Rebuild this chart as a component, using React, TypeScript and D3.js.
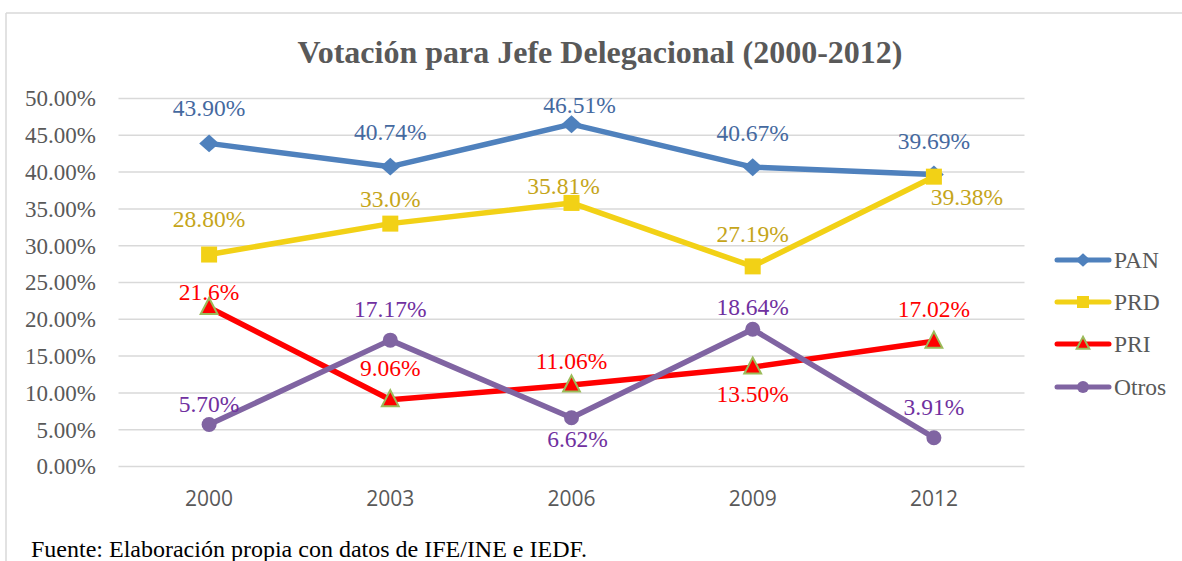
import React from "react";
import * as d3 from "d3";

const years = ["2000", "2003", "2006", "2009", "2012"];
const pan = [43.9, 40.74, 46.51, 40.67, 39.69];
const prd = [28.8, 33.0, 35.81, 27.19, 39.38];
const pri = [21.6, 9.06, 11.06, 13.5, 17.02];
const otros = [5.7, 17.17, 6.62, 18.64, 3.91];
const panLabels = ["43.90%", "40.74%", "46.51%", "40.67%", "39.69%"];
const prdLabels = ["28.80%", "33.0%", "35.81%", "27.19%", "39.38%"];
const priLabels = ["21.6%", "9.06%", "11.06%", "13.50%", "17.02%"];
const otrosLabels = ["5.70%", "17.17%", "6.62%", "18.64%", "3.91%"];
const yTicks = [0, 5, 10, 15, 20, 25, 30, 35, 40, 45, 50];

// label offsets (dx, dy of label center relative to point)
const panOff = [[0, -35], [0, -34], [8, -19], [0, -34], [0, -33]];
const prdOff = [[0, -35], [0, -24], [-8, -17], [0, -32], [33, 21]];
const priOff = [[0, -15], [0, -32], [0, -24], [0, 27], [0, -32]];
const otrosOff = [[0, -20], [0, -31], [6, 21], [0, -22], [0, -31]];

const W = 1182, H = 561;
const plotLeft = 118.5, plotRight = 1024.5, plotTop = 98.5, plotBottom = 466.5;

const serif = "'Liberation Serif', 'Times New Roman', serif";
const sans = "'Open Sans', 'DejaVu Sans', sans-serif";

type Series = {
  name: string;
  values: number[];
  labels: string[];
  off: number[][];
  line: string;
  text: string;
  marker: "diamond" | "square" | "triangle" | "circle";
};

const series: Series[] = [
  { name: "PAN", values: pan, labels: panLabels, off: panOff, line: "#4F81BD", text: "#45699F", marker: "diamond" },
  { name: "PRD", values: prd, labels: prdLabels, off: prdOff, line: "#F2D116", text: "#C5A51A", marker: "square" },
  { name: "PRI", values: pri, labels: priLabels, off: priOff, line: "#FF0000", text: "#FF0000", marker: "triangle" },
  { name: "Otros", values: otros, labels: otrosLabels, off: otrosOff, line: "#8064A2", text: "#7030A0", marker: "circle" },
];

function Marker({ type, x, y, s, color }: { type: string; x: number; y: number; s: number; color: string }) {
  if (type === "diamond") {
    const hw = s * 0.62, hh = s * 0.56;
    const pts = `${x},${y - hh} ${x + hw},${y} ${x},${y + hh} ${x - hw},${y}`;
    return <polygon points={pts} fill={color} />;
  }
  if (type === "square") {
    return <rect x={x - s / 2} y={y - s / 2} width={s} height={s} fill={color} />;
  }
  if (type === "triangle") {
    const w = s * 1.05, h = s;
    const pts = `${x},${y - h * 0.6} ${x + w / 2},${y + h * 0.4} ${x - w / 2},${y + h * 0.4}`;
    return <polygon points={pts} fill="#FF0000" stroke="#9BBB59" strokeWidth={2} strokeLinejoin="miter" />;
  }
  return <circle cx={x} cy={y} r={s / 2} fill={color} />;
}

export default function App() {
  const x = d3.scalePoint<string>().domain(years).range([plotLeft, plotRight]).padding(0.5);
  const y = d3.scaleLinear().domain([0, 50]).range([plotBottom, plotTop]);
  const lineGen = d3
    .line<number>()
    .x((_, i) => x(years[i]) as number)
    .y((d) => y(d));

  const legendY = [260, 302, 344, 387];

  return (
    <svg width={W} height={H} style={{ position: "absolute", left: 0, top: 0, background: "#fff" }}>
      <rect x={0} y={0} width={W} height={H} fill="#fff" />
      <line x1={6} y1={13} x2={W} y2={13} stroke="#D9D9D9" strokeWidth={1.5} />
      <line x1={6} y1={13} x2={6} y2={H} stroke="#D9D9D9" strokeWidth={1.5} />
      <text x={600} y={63} textAnchor="middle" fontFamily={serif} fontWeight="bold" fontSize={32} fill="#595959">
        Votación para Jefe Delegacional (2000-2012)
      </text>
      {yTicks.map((t) => (
        <g key={t}>
          <line x1={plotLeft} x2={plotRight} y1={y(t)} y2={y(t)} stroke="#D9D9D9" strokeWidth={1.5} />
          <text x={96} y={y(t) + 7.8} textAnchor="end" fontFamily={serif} fontSize={23} fill="#595959">
            {t.toFixed(2) + "%"}
          </text>
        </g>
      ))}
      {years.map((yr) => (
        <text key={yr} x={x(yr)} y={506} textAnchor="middle" fontFamily={sans} fontSize={21} fill="#595959">
          {yr}
        </text>
      ))}
      {series.map((s) => (
        <g key={s.name}>
          <path d={lineGen(s.values) || ""} fill="none" stroke={s.line} strokeWidth={5.5} strokeLinejoin="round" strokeLinecap="round" />
          {s.values.map((v, i) => (
            <Marker key={i} type={s.marker} x={x(years[i]) as number} y={y(v)} s={s.marker === "circle" ? 15 : 16} color={s.line} />
          ))}
        </g>
      ))}
      {series.map((s) => (
        <g key={s.name + "-lbl"}>
          {s.values.map((v, i) => (
            <text
              key={i}
              x={(x(years[i]) as number) + s.off[i][0]}
              y={y(v) + s.off[i][1] + 7.8}
              textAnchor="middle"
              fontFamily={serif}
              fontSize={23.5}
              fill={s.text}
            >
              {s.labels[i]}
            </text>
          ))}
        </g>
      ))}
      {series.map((s, i) => (
        <g key={s.name + "-leg"}>
          <line x1={1057} x2={1109} y1={legendY[i]} y2={legendY[i]} stroke={s.line} strokeWidth={5} strokeLinecap="round" />
          <Marker type={s.marker} x={1083} y={legendY[i]} s={12} color={s.line} />
          <text x={1114} y={legendY[i] + 7.8} fontFamily={serif} fontSize={23.5} fill="#595959">
            {s.name}
          </text>
        </g>
      ))}
      <text x={31} y={557} fontFamily={serif} fontSize={24} fill="#000">
        Fuente: Elaboración propia con datos de IFE/INE e IEDF.
      </text>
    </svg>
  );
}
